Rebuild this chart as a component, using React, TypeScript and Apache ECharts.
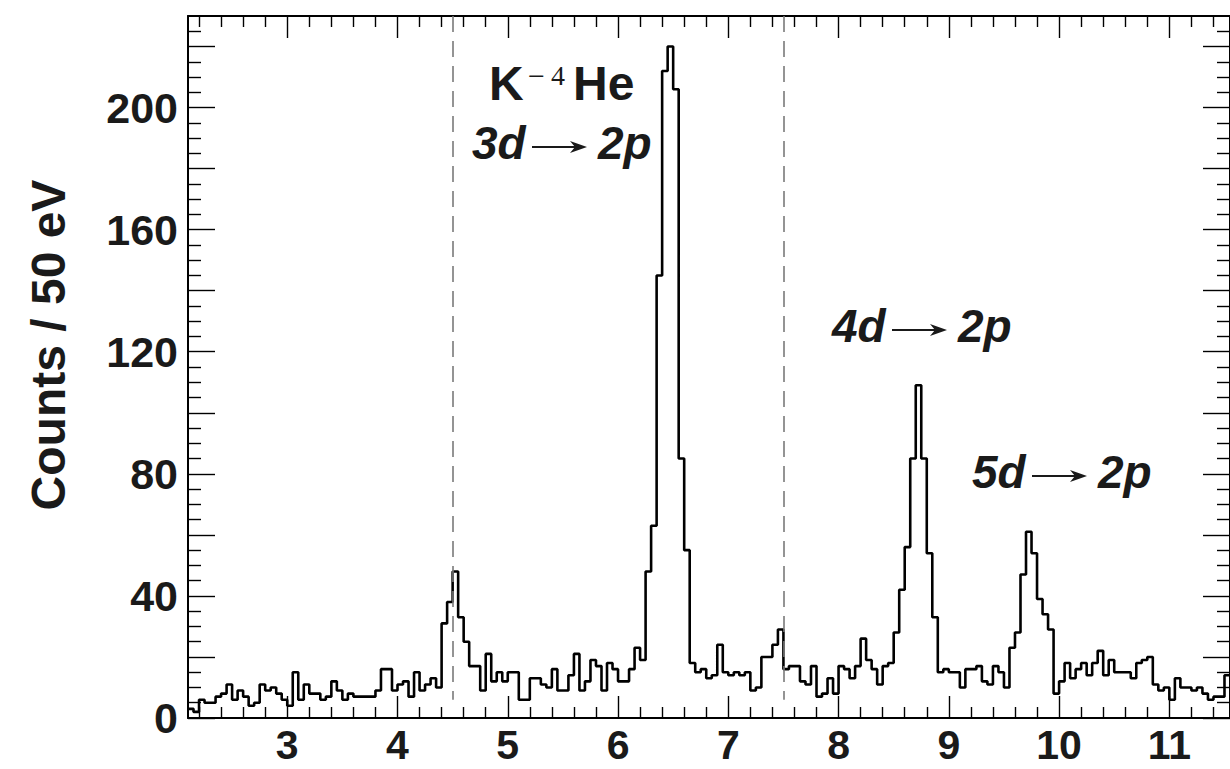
import React, { useEffect, useRef } from "react";
import * as echarts from "echarts";

// ---- data: counts per 50 eV bin, first bin starts at 2.10 keV ----
const BIN_START_KEV = 2.1;
const BIN_WIDTH_KEV = 0.05;

const counts_2p10_3p55 = [3, 2, 6, 5, 5, 7, 8, 11, 6, 9, 7, 4, 5, 11, 9, 10, 8, 6, 4, 15, 6, 11, 8, 8, 6, 7, 12, 9, 6];
const counts_3p55_4p95 = [8, 7, 7, 7, 7, 9, 16, 16, 9, 11, 12, 7, 15, 9, 11, 13, 10, 31, 38, 48, 33, 25, 17, 17, 9, 21, 12, 15];
const counts_4p95_6p25 = [12, 15, 15, 6, 6, 13, 13, 11, 10, 16, 9, 9, 14, 21, 9, 12, 19, 17, 9, 18, 16, 12, 12, 16, 23, 19];
const counts_6p25_6p90 = [48, 63, 145, 212, 220, 206, 85, 55, 18, 15, 16, 13, 14];
const counts_6p90_8p30 = [24, 15, 14, 15, 14, 15, 9, 10, 20, 20, 24, 29, 16, 17, 17, 12, 11, 17, 7, 8, 13, 8, 17, 16, 13, 17, 26, 19];
const counts_8p30_9p40 = [16, 11, 17, 18, 28, 42, 56, 85, 109, 85, 54, 33, 15, 16, 15, 15, 10, 16, 16, 17, 12, 11];
const counts_9p40_10p60 = [17, 15, 10, 23, 28, 47, 61, 54, 39, 34, 29, 8, 12, 18, 13, 16, 18, 14, 18, 22, 14, 19, 15, 15];
const counts_10p60_11p55 = [15, 13, 18, 19, 20, 11, 9, 10, 6, 13, 10, 10, 9, 10, 8, 6, 7, 7, 14];

const counts = [
  ...counts_2p10_3p55,
  ...counts_3p55_4p95,
  ...counts_4p95_6p25,
  ...counts_6p25_6p90,
  ...counts_6p90_8p30,
  ...counts_8p30_9p40,
  ...counts_9p40_10p60,
  ...counts_10p60_11p55,
];

// ---- axes ----
const X_MIN = 2.1;
const X_MAX = 11.55;
const Y_MIN = 0;
const Y_MAX = 230;
const xLabelTicks = [3, 4, 5, 6, 7, 8, 9, 10, 11];
const xMinorTicks: number[] = [];
for (let v = 22; v <= 114; v += 2) if (v % 10 !== 0) xMinorTicks.push(v / 10);
const yLabelTicks = [0, 40, 80, 120, 160, 200];
const yMajorTicks = [0, 20, 40, 60, 80, 100, 120, 140, 160, 180, 200, 220];
const yMinorTicks: number[] = [];
for (let v = 5; v < 230; v += 5) if (v % 20 !== 0) yMinorTicks.push(v);

const guideLinesKeV = [4.5, 7.5];
const GUIDE_FROM = 6; // dashed guides stop just above the baseline
const yAxisTitle = "Counts / 50 eV";

const SANS = "'Liberation Sans', Arial, sans-serif";
const TXT = "#1a1a1a";

function xAxisDef(position: string, ticks: number[], length: number, showLine: boolean, labels?: number[]) {
  return {
    type: "value",
    min: X_MIN,
    max: X_MAX,
    position,
    axisLine: { show: showLine, onZero: false, lineStyle: { color: "#000", width: 2 } },
    axisTick: { show: true, inside: true, length, customValues: ticks, lineStyle: { color: "#000", width: 1.4 } },
    axisLabel: labels
      ? {
          show: true,
          customValues: labels,
          margin: 7,
          color: TXT,
          fontFamily: SANS,
          fontWeight: "bold",
          fontSize: 41,
          lineHeight: 40,
        }
      : { show: false },
    splitLine: { show: false },
  };
}

function yAxisDef(position: string, ticks: number[], length: number, showLine: boolean, labels?: number[]) {
  return {
    type: "value",
    min: Y_MIN,
    max: Y_MAX,
    position,
    axisLine: { show: showLine, onZero: false, lineStyle: { color: "#000", width: 2 } },
    axisTick: { show: true, inside: true, length, customValues: ticks, lineStyle: { color: "#000", width: 1.4 } },
    axisLabel: labels
      ? { show: true, customValues: labels, margin: 10, color: TXT, fontFamily: SANS, fontWeight: "bold", fontSize: 43 }
      : { show: false },
    splitLine: { show: false },
  };
}

function arrow(x1: number, x2: number, y: number) {
  return [
    { type: "line", shape: { x1, y1: y, x2: x2 - 10, y2: y }, style: { stroke: TXT, lineWidth: 2 } },
    {
      type: "polygon",
      shape: { points: [[x2, y], [x2 - 17, y - 6], [x2 - 12, y], [x2 - 17, y + 6]] },
      style: { fill: TXT },
    },
  ];
}

function transition(left: number, mid: number, from: string, to: string) {
  const font = { fontFamily: SANS, fontWeight: "bold", fontStyle: "italic", fontSize: 46, fill: TXT };
  return [
    { type: "text", x: left, y: mid, style: { text: from, ...font, verticalAlign: "middle", align: "left" } },
    ...arrow(left + 60, left + 115, mid + 4),
    { type: "text", x: left + 126, y: mid, style: { text: to, ...font, verticalAlign: "middle", align: "left" } },
  ];
}

export default function App() {
  const ref = useRef<HTMLDivElement>(null);
  useEffect(() => {
    if (!ref.current) return;
    const chart = echarts.init(ref.current, undefined, { renderer: "svg" });
    const data: number[][] = counts.map((c, i) => [BIN_START_KEV + i * BIN_WIDTH_KEV, c]);
    data.push([BIN_START_KEV + counts.length * BIN_WIDTH_KEV, counts[counts.length - 1]]);

    chart.setOption({
      animation: false,
      backgroundColor: "#fff",
      grid: { left: 188, top: 16, width: 1044, height: 702, containLabel: false },
      xAxis: [
        xAxisDef("bottom", xLabelTicks, 22, true, xLabelTicks),
        xAxisDef("bottom", xMinorTicks, 11, false),
        xAxisDef("top", xLabelTicks, 22, true),
        xAxisDef("top", xMinorTicks, 11, false),
      ],
      yAxis: [
        yAxisDef("left", yMajorTicks, 27, true, yLabelTicks),
        yAxisDef("left", yMinorTicks, 13, false),
        yAxisDef("right", yMajorTicks, 27, true),
        yAxisDef("right", yMinorTicks, 13, false),
      ],
      series: [
        {
          type: "line",
          xAxisIndex: 0,
          yAxisIndex: 0,
          step: "end",
          data,
          symbol: "none",
          lineStyle: { color: "#000", width: 2.6 },
          markLine: {
            silent: true,
            symbol: "none",
            label: { show: false },
            lineStyle: { color: "#7a7a7a", width: 1.6, type: [16, 9] },
            data: guideLinesKeV.map((v) => [{ coord: [v, Y_MAX] }, { coord: [v, GUIDE_FROM] }]),
          },
          z: 3,
        },
      ],
      graphic: [
        {
          type: "text",
          x: 48,
          y: 345,
          rotation: Math.PI / 2,
          style: {
            text: yAxisTitle,
            fontFamily: SANS,
            fontWeight: "bold",
            fontSize: 48,
            fill: TXT,
            align: "center",
            verticalAlign: "middle",
          },
        },
        { type: "text", x: 489, y: 83, style: { text: "K", fontFamily: SANS, fontWeight: "bold", fontSize: 48, fill: TXT, align: "left", verticalAlign: "middle" } },
        { type: "text", x: 528, y: 75, style: { text: "\u2212", fontFamily: "'Liberation Serif', serif", fontSize: 30, fill: TXT, align: "left", verticalAlign: "middle" } },
        { type: "text", x: 551, y: 75, style: { text: "4", fontFamily: "'Liberation Serif', serif", fontSize: 28, fill: TXT, align: "left", verticalAlign: "middle" } },
        { type: "text", x: 573, y: 83, style: { text: "He", fontFamily: SANS, fontWeight: "bold", fontSize: 48, fill: TXT, align: "left", verticalAlign: "middle" } },
        ...transition(472, 143, "3d", "2p"),
        ...transition(832, 326, "4d", "2p"),
        ...transition(972, 472, "5d", "2p"),
      ],
    });
    return () => chart.dispose();
  }, []);
  return <div ref={ref} style={{ position: "fixed", left: 0, top: 0, width: 1230, height: 769, background: "#fff" }} />;
}
